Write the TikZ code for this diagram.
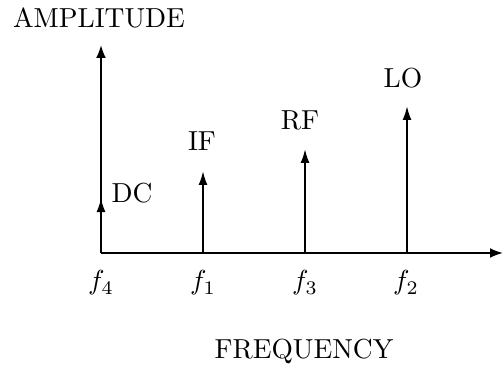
\documentclass[tikz,border=0pt]{standalone}
\usetikzlibrary{arrows.meta}
\begin{document}
\begin{tikzpicture}[x=1pt,y=-1pt,
  lbl/.style={inner sep=0pt,scale=2.75},
  spike/.style={line width=2pt,-{Latex[length=14pt,width=9pt]}},
  axis/.style={line width=2pt,-{Latex[length=13pt,width=10pt]}}]
\useasboundingbox (0,0) rectangle (503,374);
\coordinate (O) at (101,253);
\coordinate (xend) at (503,253);
\coordinate (yend) at (101,45);
\coordinate (dc) at (101,198);
\coordinate (b1) at (203,253);
\coordinate (t1) at (203,171);
\coordinate (b3) at (305,253);
\coordinate (t3) at (305,149);
\coordinate (b2) at (407,253);
\coordinate (t2) at (407,106);
\draw[axis] (O) -- (xend);
\draw[axis] (O) -- (yend);
\draw[spike] (O) -- (dc);
\draw[spike] (b1) -- (t1);
\draw[spike] (b3) -- (t3);
\draw[spike] (b2) -- (t2);
\node[lbl] (amp) at (99,18) {AMPLITUDE};
\node[lbl] (freq) at (304,351) {FREQUENCY};
\node[lbl] (dcl) at (132,193) {DC};
\node[lbl] (ifl) at (202,141) {IF};
\node[lbl] (rfl) at (300,120) {RF};
\node[lbl] (lol) at (403,78) {LO};
\node[lbl] (f4) at (101,283) {$f_4$};
\node[lbl] (f1) at (203,283) {$f_1$};
\node[lbl] (f3) at (305,283) {$f_3$};
\node[lbl] (f2) at (406,283) {$f_2$};
\end{tikzpicture}
\end{document}
